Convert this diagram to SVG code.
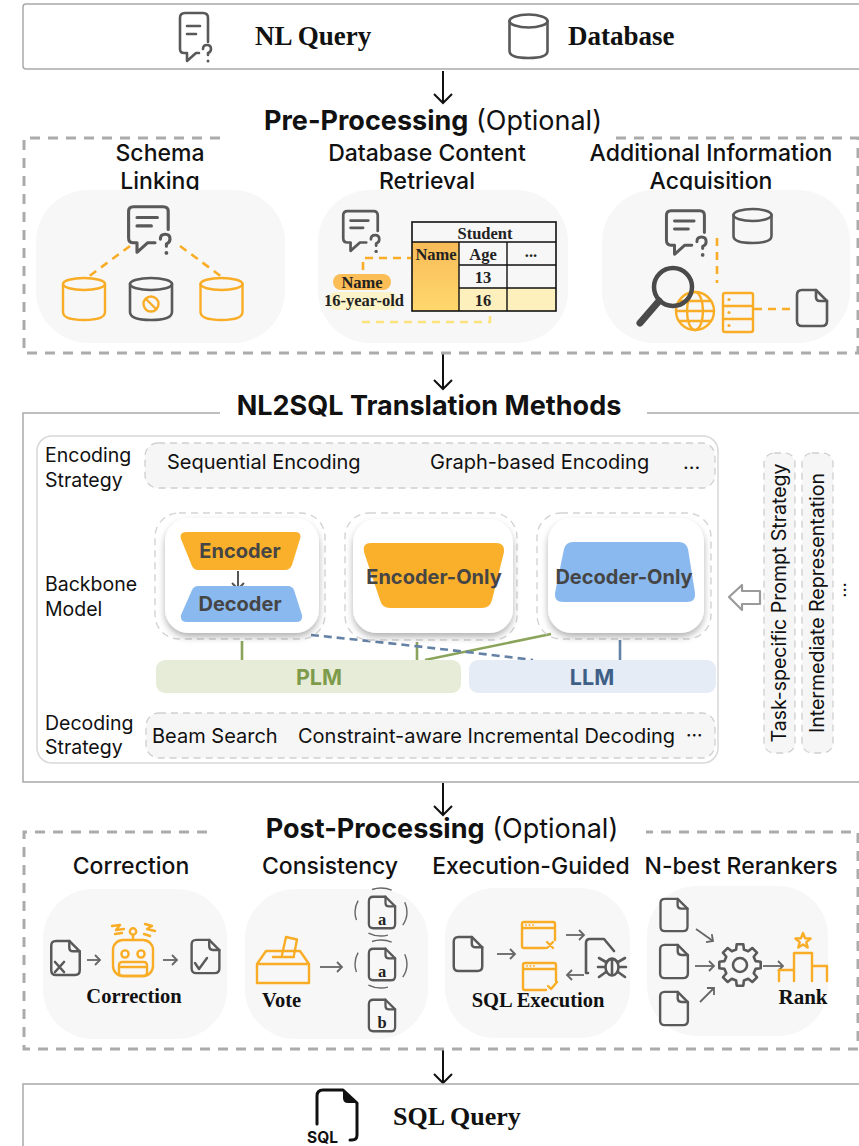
<svg xmlns="http://www.w3.org/2000/svg" width="859" height="1146" viewBox="0 0 859 1146">
  <style>
    .sans { font-family: Inter, "Noto Sans", "Liberation Sans", sans-serif; fill: #111; }
    .sub { font-family: Inter, "Noto Sans", "Liberation Sans", sans-serif; fill: #111; font-weight: 500; font-size: 23px; text-anchor: middle; }
    .serif { font-family: "Liberation Serif", "DejaVu Serif", serif; font-weight: bold; fill: #111; }
    .tbl { font-family: "Liberation Serif", "DejaVu Serif", serif; font-weight: bold; fill: #222; font-size: 16.5px; text-anchor: middle; }
    .frame { fill: none; stroke: #a9a9a9; stroke-width: 1.5; }
    .dashframe { fill: none; stroke: #ababab; stroke-width: 3; stroke-dasharray: 10 8; }
    .panel { fill: #f7f7f7; }
    .pill { fill: #f6f6f6; stroke: #cfcfcf; stroke-width: 1.3; stroke-dasharray: 7 5; }
    .ico { fill: none; stroke: #595959; stroke-width: 2.6; stroke-linecap: round; stroke-linejoin: round; }
    .oico { fill: none; stroke: #f9ad26; stroke-width: 2.4; stroke-linecap: round; stroke-linejoin: round; }
    .odash { fill: none; stroke: #f9ad26; stroke-width: 2.6; stroke-dasharray: 8 6; }
    .ydash { fill: none; stroke: #fde37e; stroke-width: 2.6; stroke-dasharray: 8 6; }
    .flow { fill: none; stroke: #111; stroke-width: 2; marker-end: url(#flowHead); }
    .small { fill: none; stroke: #666; stroke-width: 1.8; marker-end: url(#smallHead); }
    .card { fill: #fff; filter: url(#cardShadow); }
    .cardDash { fill: none; stroke: #d3d3d3; stroke-width: 1.4; stroke-dasharray: 7 5; }
    .shapeText { font-family: Inter, "Noto Sans", "Liberation Sans", sans-serif; font-weight: bold; fill: #454545; text-anchor: middle; }
  </style>
  <defs>
    <marker id="flowHead" markerUnits="userSpaceOnUse" markerWidth="22" markerHeight="22" refX="10" refY="10" orient="auto" viewBox="0 0 22 22">
      <path d="M1 1 L10 10 L1 19" fill="none" stroke="#111" stroke-width="2"/>
    </marker>
    <marker id="smallHead" markerUnits="userSpaceOnUse" markerWidth="12" markerHeight="12" refX="6" refY="6" orient="auto" viewBox="0 0 12 12">
      <path d="M1 1 L6 6 L1 11" fill="none" stroke="#666" stroke-width="1.8"/>
    </marker>
    <filter id="cardShadow" x="-20%" y="-20%" width="140%" height="150%">
      <feDropShadow dx="0" dy="4" stdDeviation="3.5" flood-color="#000" flood-opacity="0.3"/>
    </filter>
    <linearGradient id="nameCol" x1="0" y1="0" x2="0" y2="1">
      <stop offset="0" stop-color="#f8bb58"/>
      <stop offset="1" stop-color="#ffd86d"/>
    </linearGradient>
    <!-- chat bubble with question mark -->
    <symbol id="chat" viewBox="0 0 40 44" overflow="visible">
      <path class="ico" d="M36 22 V7 Q36 3 32 3 H7 Q3 3 3 7 V29 Q3 33 7 33 H10 V41 L19 33 H25"/>
      <path class="ico" d="M10 12 H27 M10 19 H22"/>
      <path class="ico" d="M29.5 30 Q29.5 26 33.5 26 Q37.5 26 37.5 30 Q37.5 33 34.5 34 V36"/>
      <circle cx="34.5" cy="41.5" r="1.6" fill="#595959"/>
    </symbol>
    <!-- document with folded corner -->
    <symbol id="doc" viewBox="0 0 34 40" overflow="visible">
      <path class="ico" stroke-width="3" d="M7 2 H21 L32 13 V33 Q32 38 27 38 H7 Q2 38 2 33 V7 Q2 2 7 2 Z"/>
      <path class="ico" stroke-width="3" d="M21 2 V9 Q21 13 25 13 H32"/>
    </symbol>
  </defs>

  <!-- input -->
  <g id="input">
    <rect class="frame" x="23" y="4" width="860" height="65" rx="3"/>
    <path class="ico" d="M208 42 V18 Q208 13 203 13 H185 Q180 13 180 18 V49 Q180 53 184 53 H187 V61 L196 53 H199"/>
    <path class="ico" d="M187 26 H200 M187 34 H196"/>
    <path class="ico" d="M203 49 Q203 45 207 45 Q211 45 211 49 Q211 52 208 53 V55"/>
    <circle cx="208" cy="61" r="1.5" fill="#595959"/>
    <text class="serif" x="255" y="45" font-size="27">NL Query</text>
    <ellipse class="ico" cx="528.5" cy="21" rx="19" ry="6.5"/>
    <path class="ico" d="M509.5 21 V51 Q509.5 58 528.5 58 Q547.5 58 547.5 51 V21"/>
    <text class="serif" x="568" y="45" font-size="27">Database</text>
  </g>

  <g id="connectors">
    <path class="flow" d="M443 71 V103"/>
    <path class="flow" d="M443 354 V389"/>
    <path class="flow" d="M443 783 V815"/>
    <path class="flow" d="M443 1050 V1083"/>
  </g>

  <!-- pre-processing -->
  <g id="pre-processing">
    <path class="dashframe" d="M220 138 H24 V353 H858 V138 H610"/>
    <text class="sans" x="433" y="130" font-size="27" text-anchor="middle"><tspan font-weight="bold">Pre-Processing</tspan> (Optional)</text>
  </g>

  <g id="schema-linking">
    <text class="sub" x="160" y="161">Schema</text>
    <text class="sub" x="160" y="189">Linking</text>
    <rect class="panel" x="36" y="190" width="249" height="153" rx="52"/>
    <use href="#chat" x="125" y="203" width="48" height="53"/>
    <path class="odash" d="M130 246 L88 277 M180 246 L222 277"/>
    <ellipse class="oico" cx="84" cy="284" rx="21" ry="6"/>
    <path class="oico" d="M63 284 V312 Q63 320 84 320 Q105 320 105 312 V284"/>
    <ellipse class="ico" cx="151" cy="284" rx="21" ry="6"/>
    <path class="ico" d="M130 284 V312 Q130 320 151 320 Q172 320 172 312 V284"/>
    <circle class="oico" cx="151" cy="304" r="7.5"/>
    <path class="oico" d="M146 299 L156 309"/>
    <ellipse class="oico" cx="221.5" cy="284" rx="21" ry="6"/>
    <path class="oico" d="M200.5 284 V312 Q200.5 320 221.5 320 Q242.5 320 242.5 312 V284"/>
  </g>

  <g id="content-retrieval">
    <text class="sub" x="427" y="161">Database Content</text>
    <text class="sub" x="427" y="189">Retrieval</text>
    <rect class="panel" x="318" y="190" width="250" height="153" rx="52"/>
    <use href="#chat" x="340" y="208" width="42" height="46"/>
    <rect x="412" y="242" width="47" height="69" fill="url(#nameCol)"/>
    <rect x="459" y="288" width="97" height="23" fill="#fdf0bd"/>
    <rect x="412" y="222" width="144" height="89" fill="none" stroke="#111" stroke-width="1.6"/>
    <path d="M412 242 H556 M459 265 H556 M459 288 H556 M459 242 V311 M507 242 V311" fill="none" stroke="#111" stroke-width="1.4"/>
    <text class="tbl" x="485" y="239">Student</text>
    <text class="tbl" x="436" y="260">Name</text>
    <text class="tbl" x="483" y="260">Age</text>
    <text class="tbl" x="531" y="257">...</text>
    <text class="tbl" x="483" y="283">13</text>
    <text class="tbl" x="483" y="306">16</text>
    <path class="odash" d="M363 270 V258 H411"/>
    <rect x="333" y="274" width="58" height="16" rx="8" fill="#fbbd55"/>
    <rect x="328" y="292" width="70" height="18" rx="8" fill="#fdf3c9"/>
    <text class="tbl" x="362" y="288">Name</text>
    <text class="tbl" x="364" y="306">16-year-old</text>
    <path class="ydash" d="M362 322 H490 V313"/>
  </g>

  <g id="info-acquisition">
    <text class="sub" x="711" y="161">Additional Information</text>
    <text class="sub" x="711" y="189">Acquisition</text>
    <rect class="panel" x="602" y="190" width="248" height="153" rx="52"/>
    <use href="#chat" x="663" y="207" width="46" height="51"/>
    <ellipse class="ico" cx="752.5" cy="215" rx="19" ry="6"/>
    <path class="ico" d="M733.5 215 V236 Q733.5 243 752.5 243 Q771.5 243 771.5 236 V215"/>
    <path class="odash" d="M717 238 V283"/>
    <circle class="oico" cx="695" cy="311" r="19"/>
    <ellipse class="oico" cx="695" cy="311" rx="8" ry="19"/>
    <path class="oico" d="M676 311 H714 M679 301 H711 M679 321 H711"/>
    <circle cx="673" cy="287" r="19" fill="none" stroke="#4a4a4a" stroke-width="4.5"/>
    <path d="M659 301 L640 323" stroke="#4a4a4a" stroke-width="7" stroke-linecap="round"/>
    <rect class="oico" x="723" y="293" width="30" height="39" rx="2"/>
    <path class="oico" d="M723 306 H753 M723 319 H753"/>
    <circle cx="729" cy="299.5" r="1.6" fill="#f9ad26"/>
    <circle cx="729" cy="312.5" r="1.6" fill="#f9ad26"/>
    <circle cx="729" cy="325.5" r="1.6" fill="#f9ad26"/>
    <path class="odash" d="M754 309 H793"/>
    <use href="#doc" x="795" y="288" width="34" height="40"/>
  </g>

  <!-- translation methods -->
  <g id="translation">
    <path class="frame" d="M220 413 H23 V782 H880 M647 413 H880"/>
    <text class="sans" x="429" y="415" font-size="27" font-weight="bold" text-anchor="middle">NL2SQL Translation Methods</text>
    <rect x="37" y="436" width="681" height="327" rx="15" fill="#fff" stroke="#d8d8d8" stroke-width="1.5"/>
  </g>

  <g id="encoding-strategy">
    <text class="sans" x="45" y="462" font-size="19.5">Encoding</text>
    <text class="sans" x="45" y="487" font-size="19.5">Strategy</text>
    <rect class="pill" x="145" y="443" width="570" height="45" rx="13"/>
    <text class="sans" x="167" y="469" font-size="20">Sequential Encoding</text>
    <text class="sans" x="430" y="469" font-size="20">Graph-based Encoding</text>
    <text class="sans" x="683" y="469" font-size="20">...</text>
  </g>

  <g id="backbone-label">
    <text class="sans" x="45" y="591" font-size="19.5">Backbone</text>
    <text class="sans" x="45" y="616" font-size="19.5">Model</text>
  </g>

  <g id="plm-llm-links">
    <path d="M242 641 V660 M417 642 V660 M551 634 L425 660" fill="none" stroke="#8ba45b" stroke-width="2.6"/>
    <path d="M311 635 Q420 646 533 660" fill="none" stroke="#6482a6" stroke-width="2.6" stroke-dasharray="8 5"/>
    <path d="M620 640 V660" fill="none" stroke="#6482a6" stroke-width="2.6"/>
  </g>

  <g id="encoder-decoder">
    <rect class="cardDash" x="155" y="513" width="170" height="126" rx="24"/>
    <rect class="card" x="165" y="518" width="154" height="115" rx="24"/>
    <path fill="#fbb02b" d="M187 532 H295 Q302 532 300 539 L292 565 Q290 570 285 570 H198 Q194 570 192 566 L181 539 Q179 532 187 532 Z"/>
    <text class="shapeText" x="240" y="558" font-size="20">Encoder</text>
    <path d="M238 571 V589 M232 583 L238 589 L244 583" fill="none" stroke="#555" stroke-width="2"/>
    <path fill="#8ab9f0" d="M198 586 H288 Q292 586 294 590 L302 615 Q303 622 296 622 H187 Q180 622 181 615 L192 590 Q194 586 198 586 Z"/>
    <text class="shapeText" x="240" y="611" font-size="20">Decoder</text>
  </g>

  <g id="encoder-only">
    <rect class="cardDash" x="345" y="513" width="172" height="127" rx="24"/>
    <rect class="card" x="353" y="519" width="160" height="114" rx="24"/>
    <path fill="#fbb02b" d="M371 543 H496 Q505 543 504 552 L492 600 Q490 608 482 608 H390 Q382 608 380 600 L364 552 Q362 543 371 543 Z"/>
    <text class="shapeText" x="434" y="584" font-size="20">Encoder-Only</text>
  </g>

  <g id="decoder-only">
    <rect class="cardDash" x="537" y="513" width="174" height="126" rx="24"/>
    <rect class="card" x="548" y="518" width="156" height="115" rx="24"/>
    <path fill="#8ab9f0" d="M573 542 H679 Q686 542 688 549 L695 593 Q696 602 687 602 H563 Q554 602 555 593 L564 549 Q566 542 573 542 Z"/>
    <text class="shapeText" x="624" y="584" font-size="20">Decoder-Only</text>
  </g>

  <g id="plm">
    <rect x="156" y="660" width="305" height="33" rx="9" fill="#e6ecd8"/>
    <text class="shapeText" x="319" y="685" font-size="21.5" style="fill:#7e9b4b">PLM</text>
  </g>

  <g id="llm">
    <rect x="469" y="660" width="247" height="33" rx="9" fill="#e5ecf5"/>
    <text class="shapeText" x="592" y="685" font-size="21.5" style="fill:#3f5f87">LLM</text>
  </g>

  <g id="decoding-strategy">
    <text class="sans" x="45" y="730" font-size="19.5">Decoding</text>
    <text class="sans" x="45" y="754" font-size="19.5">Strategy</text>
    <rect class="pill" x="146" y="713" width="569" height="45" rx="13"/>
    <text class="sans" x="152" y="743" font-size="20">Beam Search</text>
    <text class="sans" x="298" y="743" font-size="20">Constraint-aware Incremental Decoding</text>
    <text class="sans" x="686" y="742" font-size="19">···</text>
  </g>

  <g id="prompting">
    <path d="M729 597 L742 585 V591 H760 V604 H742 V610 Z" fill="#fff" stroke="#9a9a9a" stroke-width="2.2" stroke-linejoin="round"/>
    <rect class="pill" x="764" y="453" width="31" height="300" rx="10"/>
    <text class="sans" font-size="19.5" text-anchor="middle" transform="translate(786 603) rotate(-90)">Task-specific Prompt Strategy</text>
    <rect class="pill" x="802" y="453" width="31" height="300" rx="10"/>
    <text class="sans" font-size="19.5" text-anchor="middle" transform="translate(824 603) rotate(-90)">Intermediate Representation</text>
    <text class="sans" font-size="18" text-anchor="middle" transform="translate(846 590) rotate(-90)">...</text>
  </g>

  <!-- post-processing -->
  <g id="post-processing">
    <path class="dashframe" d="M207 832 H24 V1049 H858 V832 H646"/>
    <text class="sans" x="442" y="838" font-size="27" text-anchor="middle"><tspan font-weight="bold">Post-Processing</tspan> (Optional)</text>
  </g>

  <g id="correction">
    <text class="sub" x="131" y="874">Correction</text>
    <rect class="panel" x="43" y="889" width="184" height="150" rx="50"/>
    <use href="#doc" x="49" y="939" width="33" height="38"/>
    <path d="M55 962 L64 972 M64 962 L55 972" stroke="#595959" stroke-width="2.6" stroke-linecap="round"/>
    <path class="small" d="M87 960 H100"/>
    <rect class="oico" stroke-width="2" x="113" y="940" width="40" height="36" rx="10"/>
    <path class="oico" stroke-width="2" d="M133 940 V935"/>
    <circle class="oico" stroke-width="2" cx="133" cy="931.5" r="3.2"/>
    <circle class="oico" stroke-width="2" cx="125" cy="954" r="3.6"/>
    <circle class="oico" stroke-width="2" cx="141" cy="954" r="3.6"/>
    <rect class="oico" stroke-width="2" x="119" y="962" width="28" height="14" rx="3"/>
    <path class="oico" stroke-width="1.6" d="M121 967 H145"/>
    <path class="oico" stroke-width="1.8" d="M112 926 L120 925 L116 930 L124 929 M115 934 L122 933 M145 924 L152 926 L147 929 L155 931 M144 934 L150 936"/>
    <path class="small" d="M163 960 H177"/>
    <use href="#doc" x="189" y="938" width="33" height="37"/>
    <path d="M195 963 L199 969 L207 958" fill="none" stroke="#595959" stroke-width="2.4" stroke-linecap="round" stroke-linejoin="round"/>
    <text class="serif" x="134" y="1003" font-size="20.5" text-anchor="middle">Correction</text>
  </g>

  <g id="consistency">
    <text class="sub" x="330" y="874">Consistency</text>
    <rect class="panel" x="245" y="889" width="183" height="150" rx="50"/>
    <path class="oico" stroke-width="3" d="M257 964 L266 951 H300 L309 964 V983 H257 Z M257 964 H309 M273 957 H294"/>
    <path class="oico" stroke-width="3" fill="#f7f7f7" d="M282 955 L286 937 L297 939.5 L294 955"/>
    <text class="serif" x="262" y="1007" font-size="20.5">Vote</text>
    <path class="small" d="M320 967 H342"/>
    <use href="#doc" x="366" y="895" width="32" height="35"/>
    <text class="tbl" x="382" y="925">a</text>
    <use href="#doc" x="366" y="947" width="32" height="35"/>
    <text class="tbl" x="382" y="977">a</text>
    <use href="#doc" x="366" y="998" width="32" height="35"/>
    <text class="tbl" x="382" y="1028">b</text>
    <ellipse cx="381" cy="912" rx="26" ry="24" fill="none" stroke="#666" stroke-width="1.4" stroke-dasharray="20 18" stroke-dashoffset="6"/>
    <ellipse cx="381" cy="964" rx="26" ry="24" fill="none" stroke="#666" stroke-width="1.4" stroke-dasharray="20 18" stroke-dashoffset="6"/>
  </g>

  <g id="execution-guided">
    <text class="sub" x="531" y="874">Execution-Guided</text>
    <rect class="panel" x="445" y="888" width="185" height="150" rx="50"/>
    <use href="#doc" x="451" y="935" width="34" height="38"/>
    <path class="small" d="M497 954 H515"/>
    <path class="oico" stroke-width="2.2" d="M545 948 H524 Q522 948 522 946 V924 Q522 922 524 922 H553 Q555 922 555 924 V940 M522 928 H555"/>
    <path class="oico" stroke-width="2" d="M547 942 L553 948 M553 942 L547 948"/>
    <circle cx="526" cy="925" r="0.9" fill="#f9ad26"/><circle cx="529.5" cy="925" r="0.9" fill="#f9ad26"/><circle cx="533" cy="925" r="0.9" fill="#f9ad26"/>
    <path class="small" d="M566 935 H584"/>
    <path class="ico" stroke-width="2.6" d="M588 973 H586 V943 Q586 939 590 939 H604 L614 951"/>
    <ellipse class="ico" stroke-width="2.4" cx="612" cy="967" rx="6.5" ry="8.5"/>
    <path class="ico" stroke-width="2.2" d="M606 963 Q612 955 618 963 M599 958 L606 962 M625 958 L618 962 M598 967 H605 M619 967 H626 M599 977 L606 972 M625 977 L618 972 M612 960 V975"/>
    <path class="small" d="M584 975 H567"/>
    <path class="oico" stroke-width="2.2" d="M546 990 H525 Q523 990 523 988 V965 Q523 963 525 963 H554 Q556 963 556 965 V981 M523 969 H556"/>
    <path class="oico" stroke-width="2" d="M548 986 L551 989 L557 982"/>
    <circle cx="527" cy="966" r="0.9" fill="#f9ad26"/><circle cx="530.5" cy="966" r="0.9" fill="#f9ad26"/><circle cx="534" cy="966" r="0.9" fill="#f9ad26"/>
    <text class="serif" x="538" y="1007" font-size="20.5" text-anchor="middle">SQL Execution</text>
  </g>

  <g id="n-best-rerankers">
    <text class="sub" x="741" y="874">N-best Rerankers</text>
    <rect class="panel" x="647" y="886" width="181" height="150" rx="50"/>
    <use href="#doc" x="658" y="897" width="32" height="36"/>
    <use href="#doc" x="658" y="943" width="32" height="37"/>
    <use href="#doc" x="658" y="990" width="32" height="37"/>
    <path class="small" d="M696 929 L713 941"/>
    <path class="small" d="M695 966 H714"/>
    <path class="small" d="M700 1002 L714 988"/>
    <path class="ico" stroke-width="2.4" transform="translate(740 965)" d="M15.5 -3.9 L20.7 -3.3 L20.7 3.3 L15.5 3.9 L13.7 8.2 L17 12.3 L12.3 17 L8.2 13.7 L3.9 15.5 L3.3 20.7 L-3.3 20.7 L-3.9 15.5 L-8.2 13.7 L-12.3 17 L-17 12.3 L-13.7 8.2 L-15.5 3.9 L-20.7 3.3 L-20.7 -3.3 L-15.5 -3.9 L-13.7 -8.2 L-17 -12.3 L-12.3 -17 L-8.2 -13.7 L-3.9 -15.5 L-3.3 -20.7 L3.3 -20.7 L3.9 -15.5 L8.2 -13.7 L12.3 -17 L17 -12.3 L13.7 -8.2 Z"/>
    <circle class="ico" stroke-width="2.4" cx="740" cy="965" r="7"/>
    <path class="small" d="M763 966 H783"/>
    <path class="oico" stroke-width="2.4" d="M779 981 V970 H794 M794 981 V953 H812 V981 M812 966 H827 V981"/>
    <path class="oico" stroke-width="2" transform="translate(803 941)" d="M0 -8 L2.1 -2.8 L7.6 -2.5 L3.3 1.1 L4.7 6.5 L0 3.5 L-4.7 6.5 L-3.3 1.1 L-7.6 -2.5 L-2.1 -2.8 Z"/>
    <text class="serif" x="803" y="1004" font-size="21" text-anchor="middle">Rank</text>
  </g>

  <!-- output -->
  <g id="output">
    <path class="frame" d="M23 1160 V1084 H880"/>
    <path d="M317 1124 V1096 Q317 1090 323 1090 H343 L357 1103 V1135 Q357 1140 352 1140 H350" fill="none" stroke="#111" stroke-width="3" stroke-linecap="round" stroke-linejoin="round"/>
    <path d="M343 1090 L357 1103 H348 Q343 1103 343 1098 Z" fill="#111"/>
    <text class="sans" x="307" y="1143" font-size="15.5" font-weight="bold">SQL</text>
    <text class="serif" x="393" y="1125" font-size="26">SQL Query</text>
  </g>
</svg>
